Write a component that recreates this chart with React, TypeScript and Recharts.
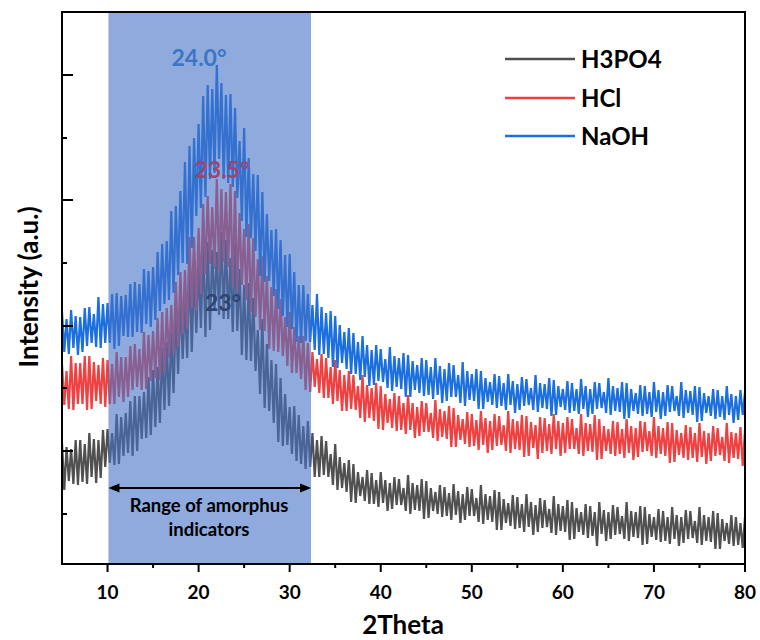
import React from 'react';
import { LineChart, Line, XAxis, YAxis, ReferenceArea, ReferenceLine } from 'recharts';

// 2theta grid of the scans (degrees)
const startAngle = 5;
const angleStep = 0.25;

// intensities (a.u.), 4 readings per degree from 5 to 80
const h3po4 = [
  121, 74, 117, 83, 115, 80, 124, 79, 124, 82, 120, 80, 131, 87, 125, 81,
  124, 86, 134, 97, 135, 101, 131, 99, 150, 100, 147, 108, 151, 111, 163, 108,
  168, 113, 168, 125, 172, 126, 187, 129, 194, 137, 197, 141, 216, 154, 222, 158,
  232, 171, 255, 190, 268, 205, 261, 206, 301, 212, 293, 231, 300, 236, 318, 227,
  322, 234, 314, 253, 312, 249, 332, 245, 324, 245, 306, 232, 320, 233, 295, 209,
  279, 204, 281, 203, 266, 193, 234, 170, 245, 156, 220, 153, 204, 141, 200, 122,
  186, 118, 170, 119, 157, 110, 158, 103, 149, 100, 138, 95, 143, 97, 131, 87,
  124, 87, 128, 89, 123, 87, 110, 79, 120, 74, 107, 76, 101, 72, 104, 62,
  100, 61, 92, 68, 87, 63, 94, 60, 91, 60, 84, 57, 92, 61, 84, 53,
  81, 55, 87, 59, 85, 59, 76, 53, 89, 50, 81, 54, 79, 53, 85, 45,
  83, 46, 76, 53, 72, 50, 79, 47, 77, 48, 71, 44, 80, 49, 73, 41,
  70, 44, 77, 48, 75, 48, 66, 42, 79, 40, 70, 44, 68, 42, 74, 34,
  72, 34, 65, 41, 61, 38, 69, 35, 67, 36, 60, 32, 70, 37, 62, 29,
  59, 32, 66, 36, 64, 37, 55, 31, 68, 29, 60, 33, 58, 32, 64, 24,
  62, 25, 56, 32, 52, 29, 60, 26, 58, 28, 52, 18, 62, 30, 54, 23,
  52, 25, 59, 29, 57, 30, 48, 25, 62, 23, 53, 27, 52, 26, 58, 19,
  57, 20, 50, 27, 47, 24, 55, 22, 53, 23, 47, 20, 57, 25, 49, 18,
  47, 21, 54, 25, 53, 26, 43, 21, 57, 19, 49, 23, 47, 22, 53, 15,
  51, 15, 45, 23, 41, 20, 49, 18, 47, 19, 41, 16, 47,
];

const hcl = [
  200, 159, 193, 155, 208, 154, 201, 160, 201, 160, 208, 154, 208, 155, 202, 163,
  199, 160, 206, 157, 204, 160, 200, 160, 212, 167, 207, 162, 207, 167, 218, 174,
  220, 177, 215, 174, 232, 175, 229, 183, 233, 186, 246, 184, 252, 191, 256, 206,
  259, 211, 282, 217, 292, 230, 294, 235, 327, 256, 327, 253, 336, 270, 360, 290,
  368, 300, 357, 295, 385, 293, 375, 302, 372, 297, 380, 277, 373, 272, 351, 279,
  335, 264, 340, 252, 326, 247, 305, 234, 308, 233, 288, 215, 277, 213, 275, 212,
  265, 208, 247, 198, 252, 191, 237, 191, 228, 185, 228, 174, 221, 172, 212, 177,
  205, 171, 210, 166, 206, 166, 197, 160, 204, 163, 194, 153, 189, 153, 193, 155,
  189, 154, 178, 146, 189, 142, 179, 146, 176, 143, 181, 135, 178, 134, 170, 141,
  165, 136, 171, 133, 168, 134, 161, 130, 169, 134, 161, 126, 157, 128, 163, 132,
  161, 132, 151, 126, 164, 123, 155, 127, 153, 125, 158, 117, 156, 117, 149, 124,
  145, 120, 152, 117, 150, 118, 144, 114, 153, 119, 146, 111, 143, 114, 150, 118,
  148, 119, 139, 113, 153, 111, 145, 115, 143, 114, 149, 107, 148, 108, 142, 116,
  139, 105, 147, 111, 146, 113, 140, 110, 150, 115, 143, 108, 141, 111, 147, 115,
  145, 115, 136, 110, 150, 108, 141, 113, 140, 112, 149, 104, 145, 105, 138, 113,
  135, 110, 143, 108, 142, 110, 135, 106, 145, 111, 138, 104, 136, 107, 143, 112,
  142, 113, 133, 108, 147, 106, 138, 110, 136, 108, 142, 101, 141, 102, 134, 109,
  131, 106, 139, 104, 137, 106, 131, 102, 141, 107, 133, 100, 131, 103, 138, 108,
  136, 109, 127, 103, 141, 101, 132, 106, 131, 105, 137, 98, 134,
];

const naoh = [
  252, 212, 245, 210, 254, 216, 248, 209, 247, 212, 256, 218, 257, 221, 250, 217,
  267, 216, 260, 221, 261, 221, 270, 215, 271, 218, 268, 228, 269, 227, 280, 227,
  282, 232, 280, 231, 295, 240, 293, 237, 297, 244, 312, 253, 320, 260, 323, 264,
  353, 271, 358, 289, 373, 301, 402, 300, 418, 316, 426, 348, 440, 356, 468, 367,
  479, 385, 475, 391, 499, 405, 481, 385, 469, 381, 470, 377, 456, 366, 423, 343,
  436, 327, 406, 326, 390, 313, 389, 288, 372, 282, 350, 283, 334, 268, 335, 255,
  324, 248, 309, 237, 310, 235, 292, 222, 279, 221, 279, 223, 270, 222, 259, 214,
  270, 209, 257, 210, 251, 206, 253, 197, 248, 196, 239, 201, 232, 195, 236, 190,
  231, 190, 222, 184, 228, 187, 219, 178, 214, 179, 219, 183, 215, 182, 205, 176,
  217, 173, 208, 177, 206, 175, 211, 167, 209, 167, 203, 174, 199, 171, 206, 168,
  204, 169, 197, 165, 206, 169, 198, 161, 195, 163, 201, 167, 199, 167, 189, 161,
  202, 158, 193, 164, 190, 163, 195, 155, 193, 155, 186, 162, 182, 159, 190, 156,
  188, 158, 181, 154, 190, 159, 183, 151, 180, 154, 187, 158, 185, 159, 176, 154,
  189, 152, 181, 156, 180, 155, 186, 148, 184, 149, 178, 157, 175, 154, 183, 151,
  181, 153, 175, 150, 185, 155, 178, 147, 175, 150, 182, 155, 181, 156, 172, 151,
  186, 149, 178, 153, 176, 152, 182, 145, 181, 146, 175, 153, 171, 150, 179, 148,
  178, 150, 172, 147, 182, 152, 174, 145, 172, 148, 179, 152, 178, 153, 168, 148,
  182, 146, 174, 151, 173, 149, 178, 142, 177, 143, 171, 151, 168, 148, 175, 145,
  174, 147, 168, 144, 178, 149, 170, 141, 168, 144, 174, 149, 172,
];

const majorX = [10, 20, 30, 40, 50, 60, 70, 80];
const minorX = [15, 25, 35, 45, 55, 65, 75];
const majorY = [113, 238, 364, 489];
const minorY = [50, 176, 301, 426];

// amorphous range marked on the plot
const rangeStart = 10.1;
const rangeEnd = 32.35;
const arrowLevel = 76;

const series = [
  { key: 'h3po4', name: 'H3PO4', color: '#505050' },
  { key: 'hcl', name: 'HCl', color: '#EF4141' },
  { key: 'naoh', name: 'NaOH', color: '#1B6FDF' },
];

const peakLabels = [
  { text: '24.0°', color: '#3A75C8', left: 199, top: 57 },
  { text: '23.5°', color: '#9E4470', left: 222, top: 169 },
  { text: '23°', color: '#2F4570', left: 223, top: 302 },
];

const FONT = 'Lato, "Open Sans", sans-serif';

const data = h3po4.map((v, i) => ({
  t: startAngle + i * angleStep,
  h3po4: v,
  hcl: hcl[i],
  naoh: naoh[i],
}));

const xTicks = [...majorX, ...minorX].sort((a, b) => a - b);
const yTicks = [...majorY, ...minorY].sort((a, b) => a - b);

function XTick(props: any) {
  const { x, y, payload } = props;
  const major = majorX.includes(payload.value);
  return (
    <g>
      <line x1={x} x2={x} y1={y} y2={y + (major ? 8 : 4)} stroke="#000" strokeWidth={2} />
      {major && (
        <text x={x} y={y + 35} textAnchor="middle" fontSize={19} fontWeight={700} fontFamily={FONT} fill="#000">
          {payload.value}
        </text>
      )}
    </g>
  );
}

function YTick(props: any) {
  const { x, y, payload } = props;
  const major = majorY.includes(payload.value);
  return <line x1={x} x2={x + (major ? 11 : 5)} y1={y} y2={y} stroke="#000" strokeWidth={2} />;
}

function RangeArrow(props: any) {
  const { x1, y1, x2 } = props;
  return (
    <g>
      <line x1={x1 + 6} x2={x2 - 6} y1={y1} y2={y1} stroke="#000" strokeWidth={2} />
      <polygon points={`${x1},${y1} ${x1 + 11},${y1 - 4.5} ${x1 + 11},${y1 + 4.5}`} fill="#000" />
      <polygon points={`${x2},${y1} ${x2 - 11},${y1 - 4.5} ${x2 - 11},${y1 + 4.5}`} fill="#000" />
    </g>
  );
}

export default function App() {
  return (
    <div style={{ position: 'absolute', left: 0, top: 0, width: 760, height: 640, background: '#fff', fontFamily: FONT, overflow: 'hidden' }}>
      <LineChart width={760} height={640} data={data} margin={{ top: 12, right: 15, bottom: 46, left: 2 }}>
        <XAxis
          dataKey="t"
          type="number"
          domain={[5, 80]}
          ticks={xTicks}
          interval={0}
          tick={XTick}
          tickLine={false}
          tickSize={0}
          tickMargin={0}
          height={30}
          axisLine={{ stroke: '#000', strokeWidth: 2 }}
          allowDataOverflow
        />
        <YAxis
          type="number"
          domain={[0, 552]}
          ticks={yTicks}
          interval={0}
          tick={YTick}
          tickLine={false}
          tickSize={0}
          tickMargin={0}
          width={60}
          axisLine={{ stroke: '#000', strokeWidth: 2 }}
          allowDataOverflow
        />
        {series.map((s) => (
          <Line
            key={s.key}
            type="linear"
            dataKey={s.key}
            name={s.name}
            stroke={s.color}
            strokeWidth={2.2}
            dot={false}
            activeDot={false}
            isAnimationActive={false}
          />
        ))}
        <ReferenceArea x1={rangeStart} x2={rangeEnd} fill="#4472C4" fillOpacity={0.6} stroke="none" zIndex={450} />
        <ReferenceLine
          segment={[{ x: rangeStart, y: arrowLevel }, { x: rangeEnd, y: arrowLevel }]}
          shape={RangeArrow}
          zIndex={460}
        />
        <ReferenceArea x1={5} x2={80} y1={0} y2={552} fill="none" stroke="#000" strokeWidth={2} zIndex={600} />
      </LineChart>

      {peakLabels.map((p) => (
        <div
          key={p.text}
          style={{
            position: 'absolute', left: p.left, top: p.top, transform: 'translate(-50%, -50%)',
            color: p.color, fontSize: 23, fontWeight: 700, lineHeight: 1, whiteSpace: 'nowrap',
          }}
        >
          {p.text}
        </div>
      ))}

      <div
        style={{
          position: 'absolute', left: 209, top: 517, transform: 'translate(-50%, -50%)',
          fontSize: 18.5, fontWeight: 700, lineHeight: '24px', textAlign: 'center', color: '#000', whiteSpace: 'nowrap',
        }}
      >
        Range of amorphus
        <br />
        indicators
      </div>

      {series.map((s, i) => (
        <div key={s.key} style={{ position: 'absolute', left: 505, top: 59 + i * 38.5 - 14, height: 28, display: 'flex', alignItems: 'center' }}>
          <svg width={72} height={28} style={{ display: 'block' }}>
            <line x1={0} x2={70} y1={14} y2={14} stroke={s.color} strokeWidth={2.5} />
          </svg>
          <span style={{ marginLeft: 4, fontSize: 24, fontWeight: 700, color: '#000', lineHeight: 1 }}>{s.name}</span>
        </div>
      ))}

      <div
        style={{
          position: 'absolute', left: 403, top: 624, transform: 'translate(-50%, -50%)',
          fontSize: 26, fontWeight: 700, lineHeight: 1, color: '#000', whiteSpace: 'nowrap',
        }}
      >
        2Theta
      </div>
      <div
        style={{
          position: 'absolute', left: 28, top: 287, transform: 'translate(-50%, -50%) rotate(-90deg)',
          fontSize: 26, fontWeight: 700, lineHeight: 1, color: '#000', whiteSpace: 'nowrap',
        }}
      >
        Intensity (a.u.)
      </div>
    </div>
  );
}
